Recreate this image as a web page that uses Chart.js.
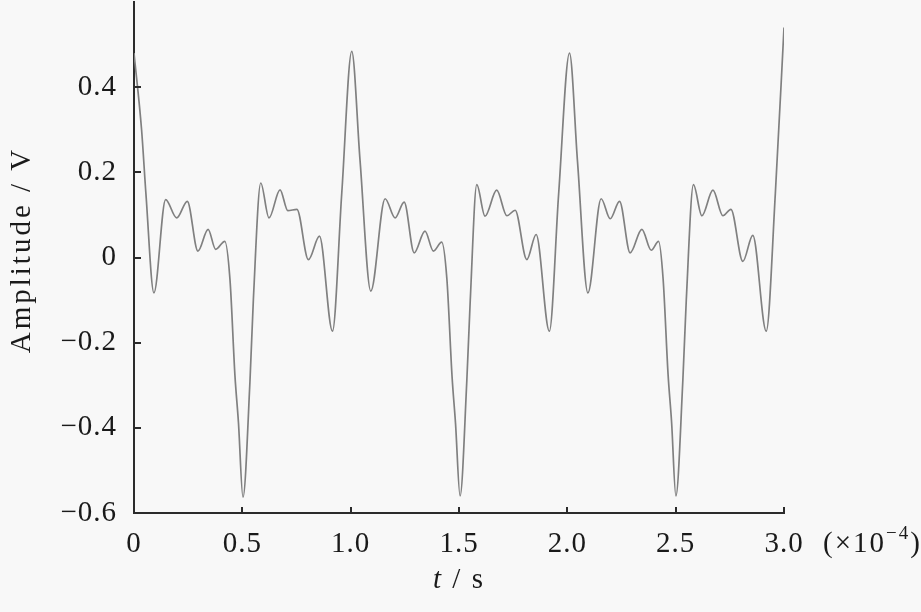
<!DOCTYPE html>
<html>
<head>
<meta charset="utf-8">
<script src="https://cdn.jsdelivr.net/npm/chart.js@4.4.1/dist/chart.umd.min.js"></script>
<style>
  html, body { margin: 0; padding: 0; background: #f8f8f8; }
  #wrap { width: 921px; height: 612px; }
</style>
</head>
<body>
<div id="wrap"><canvas id="chart" width="921" height="612"></canvas></div>
<script>
// time in units of 1e-4 s
let timeVals = [
  0.000, 0.035, 0.055, 0.092, 0.146, 0.197, 0.246, 0.295, 0.342, 0.377, 0.419,
  0.443, 0.466, 0.482, 0.503, 0.535, 0.551, 0.585, 0.623, 0.674, 0.710, 0.752,
  0.805, 0.856, 0.916, 0.959, 1.005, 1.043, 1.093, 1.159, 1.205, 1.247, 1.293,
  1.343, 1.382, 1.420, 1.444, 1.468, 1.484, 1.505, 1.536, 1.552, 1.582, 1.620,
  1.674, 1.721, 1.759, 1.813, 1.856, 1.917, 1.960, 2.010, 2.047, 2.095, 2.156,
  2.198, 2.241, 2.290, 2.344, 2.387, 2.421, 2.442, 2.465, 2.481, 2.501, 2.533,
  2.549, 2.582, 2.621, 2.672, 2.718, 2.755, 2.810, 2.856, 2.918, 2.960, 3.000
]
let amplitude = [
  0.480, 0.300, 0.150, -0.083, 0.136, 0.093, 0.132, 0.015, 0.066, 0.019, 0.038,
  -0.052, -0.278, -0.387, -0.563, -0.293, -0.098, 0.175, 0.093, 0.159, 0.110, 0.113,
  -0.005, 0.050, -0.173, 0.152, 0.484, 0.230, -0.079, 0.138, 0.093, 0.130, 0.011,
  0.062, 0.015, 0.036, -0.050, -0.280, -0.390, -0.560, -0.290, -0.100, 0.171, 0.097,
  0.158, 0.098, 0.111, -0.005, 0.054, -0.173, 0.150, 0.480, 0.225, -0.083, 0.138,
  0.091, 0.132, 0.011, 0.066, 0.017, 0.038, -0.050, -0.275, -0.385, -0.560, -0.290,
  -0.100, 0.171, 0.098, 0.158, 0.098, 0.113, -0.009, 0.052, -0.173, 0.150, 0.540
]
let xTicks = [0, 0.5, 1.0, 1.5, 2.0, 2.5, 3.0]
let yTicks = [-0.6, -0.4, -0.2, 0, 0.2, 0.4]

const serif = '"Liberation Serif", "Times New Roman", serif'
const axisColor = '#2b2b2b'
const textColor = '#1a1a1a'

function fmt(v) {
  v = Math.round(v * 10) / 10
  if (v === 0) return '0'
  return (v < 0 ? '\u2212' : '') + Math.abs(v).toFixed(1)
}

// background, inward tick marks, axis titles and exponent note
const extras = {
  id: 'extras',
  beforeDraw(chart) {
    const c = chart.ctx
    c.save()
    c.fillStyle = '#f8f8f8'
    c.fillRect(0, 0, chart.width, chart.height)
    c.restore()
    c.letterSpacing = '1px'
  },
  afterDraw(chart) {
    const c = chart.ctx
    const xs = chart.scales.x, ys = chart.scales.y
    const area = chart.chartArea
    c.save()
    c.strokeStyle = axisColor
    c.lineWidth = 2
    xTicks.forEach(t => {
      const px = Math.round(xs.getPixelForValue(t))
      c.beginPath(); c.moveTo(px, area.bottom); c.lineTo(px, area.bottom - 6); c.stroke()
    })
    yTicks.forEach(t => {
      const py = Math.round(ys.getPixelForValue(t))
      c.beginPath(); c.moveTo(area.left, py); c.lineTo(area.left + 7, py); c.stroke()
    })

    c.fillStyle = textColor
    c.textBaseline = 'alphabetic'
    c.letterSpacing = '2px'
    // x title: italic t / s
    const cx = (area.left + area.right) / 2, ty = 588
    c.font = 'italic 29px ' + serif
    const wT = c.measureText('t').width
    c.font = '29px ' + serif
    const wRest = c.measureText(' / s').width
    let sx = cx - (wT + wRest) / 2
    c.font = 'italic 29px ' + serif
    c.fillText('t', sx, ty)
    c.font = '29px ' + serif
    c.fillText(' / s', sx + wT, ty)

    // (x10^-4)
    let ex = 823, ey = 552
    c.font = '29px ' + serif
    c.fillText('(\u00d710', ex, ey)
    ex += c.measureText('(\u00d710').width
    c.font = '19px ' + serif
    c.fillText('\u22124', ex, ey - 13)
    ex += c.measureText('\u22124').width
    c.font = '29px ' + serif
    c.fillText(')', ex, ey)

    // y title, rotated
    c.translate(30, 250)
    c.rotate(-Math.PI / 2)
    c.letterSpacing = '3px'
    c.font = '29px ' + serif
    c.textAlign = 'center'
    c.fillText('Amplitude / V', 0, 0)
    c.restore()
  }
}

const ctx = document.getElementById('chart').getContext('2d')
const myChart = new Chart(ctx, {
  type: 'line',
  data: {
    datasets: [{
      data: timeVals.map((t, i) => ({ x: t, y: amplitude[i] })),
      borderColor: '#808080',
      borderWidth: 1.7,
      pointRadius: 0,
      fill: false,
      cubicInterpolationMode: 'monotone'
    }]
  },
  options: {
    responsive: false,
    animation: false,
    layout: { padding: { top: 2, right: 137, left: 0, bottom: 0 } },
    plugins: { legend: { display: false }, tooltip: { enabled: false } },
    scales: {
      x: {
        type: 'linear',
        min: 0, max: 3.0,
        afterBuildTicks: s => { s.ticks = xTicks.map(v => ({ value: v })) },
        afterFit: s => { s.height = 99; s.paddingLeft = 0; s.paddingRight = 0 },
        grid: { display: false },
        border: { display: true, color: axisColor, width: 2 },
        ticks: {
          color: textColor,
          font: { family: serif, size: 29 },
          padding: 6,
          maxRotation: 0,
          callback: v => fmt(v)
        }
      },
      y: {
        min: -0.6, max: 0.6,
        afterBuildTicks: s => { s.ticks = yTicks.map(v => ({ value: v })) },
        afterFit: s => { s.width = 134; s.paddingTop = 0; s.paddingBottom = 0 },
        grid: { display: false },
        border: { display: true, color: axisColor, width: 2 },
        ticks: {
          color: textColor,
          font: { family: serif, size: 29 },
          padding: 9,
          callback: v => fmt(v)
        }
      }
    }
  },
  plugins: [extras]
})
</script>
</body>
</html>
